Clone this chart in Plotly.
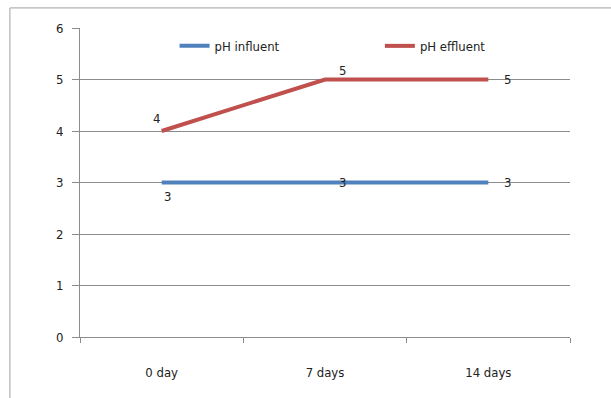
import plotly.graph_objects as go

# Sampling days and measured pH
days = ["0 day", "7 days", "14 days"]
ph_influent = [3, 3, 3]
ph_effluent = [4, 5, 5]

# Data-label offsets (pixels) for each point, per series
influent_label_shift = [(6, -14), (17, 0), (19, 0)]
effluent_label_shift = [(-5, 13), (17, 9), (19, 0)]

FONT = "DejaVu Sans Condensed, Liberation Sans Narrow, Liberation Sans, sans-serif"
BLUE = "#4F81BD"
RED = "#C0504D"
GRID = "#8C8C8C"
TEXT = "#222"

fig = go.Figure()
fig.add_trace(go.Scatter(x=days, y=ph_influent, mode="lines", name="pH influent",
                         line=dict(color=BLUE, width=4), legend="legend"))
fig.add_trace(go.Scatter(x=days, y=ph_effluent, mode="lines", name="pH effluent",
                         line=dict(color=RED, width=4), legend="legend2"))

annotations = []
for values, shifts in ((ph_influent, influent_label_shift), (ph_effluent, effluent_label_shift)):
    for d, v, (dx, dy) in zip(days, values, shifts):
        annotations.append(dict(x=d, y=v, text=str(v), showarrow=False,
                                xshift=dx, yshift=dy,
                                font=dict(family=FONT, size=13, color=TEXT)))

legend_style = dict(xanchor="left", yanchor="middle", bgcolor="rgba(0,0,0,0)",
                    font=dict(family=FONT, size=13, color=TEXT), itemwidth=30)

fig.update_layout(
    width=611, height=398,
    margin=dict(l=80, r=41, t=28, b=61),
    paper_bgcolor="white", plot_bgcolor="white",
    font=dict(family=FONT, size=12, color=TEXT),
    showlegend=True,
    legend=dict(x=0.193, y=0.942, **legend_style),
    legend2=dict(x=0.612, y=0.942, **legend_style),
    annotations=annotations,
    shapes=[dict(type="rect", xref="paper", yref="paper",
                 x0=-0.143, x1=1.3, y0=-0.4, y1=1.065,
                 line=dict(color="#A0A0A0", width=1), layer="below")],
)
fig.update_xaxes(type="category", range=[-0.5, 2.5], tickson="boundaries",
                 ticks="outside", ticklen=5, tickcolor=GRID,
                 showline=True, linecolor=GRID, linewidth=1,
                 showgrid=False, ticklabelstandoff=23,
                 tickfont=dict(family=FONT, size=13, color=TEXT))
fig.update_yaxes(range=[0, 6], dtick=1, ticks="outside", ticklen=7, tickcolor=GRID,
                 showline=True, linecolor=GRID, linewidth=1,
                 showgrid=True, gridcolor=GRID, gridwidth=1, zeroline=False,
                 ticklabelstandoff=6,
                 tickfont=dict(family=FONT, size=13, color=TEXT))

fig.write_html("out.html")
